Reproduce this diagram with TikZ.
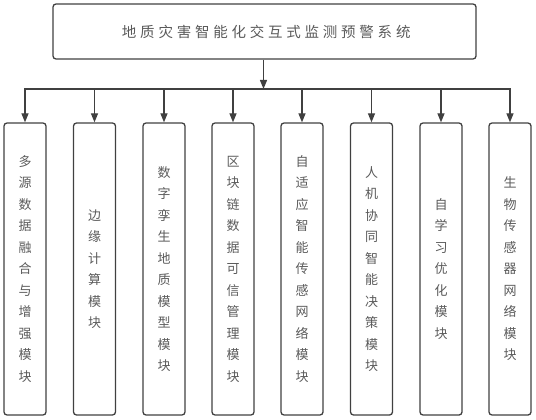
\documentclass[tikz,border=0pt]{standalone}
\usepackage{fontspec}
\newfontfamily\cjk{Noto Sans CJK SC}
\usetikzlibrary{arrows.meta}
\definecolor{linec}{HTML}{404040}
\definecolor{textc}{HTML}{5A5A5A}
\tikzset{
  topbox/.style={draw=linec, line width=1.3pt, rounded corners=3pt, minimum width=423pt, minimum height=55pt, inner sep=0pt,
    font=\cjk\fontsize{14.5}{16}\selectfont\addfontfeature{LetterSpace=26}, text=textc},
  modbox/.style={draw=linec, line width=1.3pt, rounded corners=3pt, minimum width=42pt, minimum height=292pt, inner sep=0pt,
    align=center, font=\cjk\fontsize{13}{21.5}\selectfont, text=textc},
  arr/.style={draw=linec, line width=1.2pt, -{Triangle[length=9pt,width=7pt]}},
}
\begin{document}
\begin{tikzpicture}[x=1pt,y=-1pt]
\useasboundingbox (0,0) rectangle (536,420);
\node[topbox] (t) at (264.5,31.5) {\hspace{3.5pt}地质灾害智能化交互式监测预警系统};
\node[modbox] (b1) at (25,269) {多\\源\\数\\据\\融\\合\\与\\增\\强\\模\\块};
\node[modbox] (b2) at (94.5,269) {边\\缘\\计\\算\\模\\块};
\node[modbox] (b3) at (164,269) {数\\字\\孪\\生\\地\\质\\模\\型\\模\\块};
\node[modbox] (b4) at (233,269) {区\\块\\链\\数\\据\\可\\信\\管\\理\\模\\块};
\node[modbox] (b5) at (302,269) {自\\适\\应\\智\\能\\传\\感\\网\\络\\模\\块};
\node[modbox] (b6) at (371.5,269) {人\\机\\协\\同\\智\\能\\决\\策\\模\\块};
\node[modbox] (b7) at (441,269) {自\\学\\习\\优\\化\\模\\块};
\node[modbox] (b8) at (510,269) {生\\物\\传\\感\\器\\网\\络\\模\\块};
\coordinate (j) at (263.5,89);
\draw[arr] (t.south -| j) -- (j);
\foreach \i in {1,...,8}{
  \draw[arr] (j) -| (b\i.north);
}
\end{tikzpicture}
\end{document}
